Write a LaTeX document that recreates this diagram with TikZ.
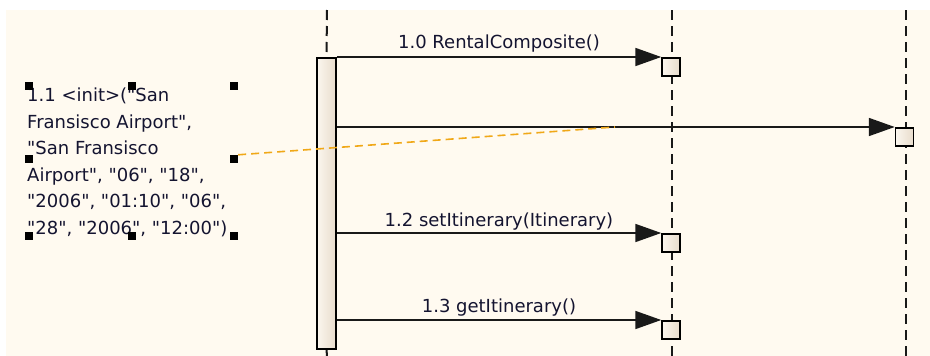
\documentclass[tikz,border=0pt]{standalone}
\usepackage{fontspec}
\newfontfamily\dv{DejaVu Sans}
\usetikzlibrary{arrows.meta}
\definecolor{bg}{HTML}{FFFAF0}
\definecolor{txt}{HTML}{141430}
\definecolor{notec}{HTML}{F0A818}
\definecolor{actl}{HTML}{FBF6EE}
\definecolor{actr}{HTML}{E8DCCC}
\begin{document}
\begin{tikzpicture}[x=1pt,y=-1pt,
  lifeline/.style={draw=black!90, line width=2pt, dash pattern=on 10pt off 6pt},
  actbox/.style={draw=black, line width=1.5pt, left color=actl, right color=actr,
    minimum width=18pt, minimum height=18pt, inner sep=0pt, anchor=north},
  msg/.style={draw=black!90, line width=1.8pt, -{Triangle[length=26pt,width=18pt]}},
  lbl/.style={font=\dv\fontsize{18}{22}\selectfont, text=txt, inner sep=0pt},
  handle/.style={fill=black, minimum size=8pt, inner sep=0pt},
  notelink/.style={draw=notec, line width=1.6pt, dash pattern=on 8pt off 5pt}]
\useasboundingbox (0,0) rectangle (930,356);
\fill[white] (0,0) rectangle (930,356);
\fill[bg] (6,10) rectangle (930,356);
% lifeline end points
\coordinate (l1top) at (327,10);
\coordinate (l1bot) at (327,356);
\coordinate (l2top) at (672,10);
\coordinate (l2bot) at (672,356);
\coordinate (l3top) at (906,10);
\coordinate (l3bot) at (906,356);
% activations
\node[actbox, minimum width=19pt, minimum height=291pt] (act) at (326.5,57) {};
\draw[lifeline] (l1top) -- (act.north);
\draw[lifeline] (act.south) -- (l1bot);
\draw[lifeline] (l2top) -- (l2bot);
\draw[lifeline] (l3top) -- (l3bot);
\node[actbox, minimum width=19pt, minimum height=291pt] at (326.5,57) {};
\node[actbox] (b10) at (671,57) {};
\node[actbox] (b11) at (904.5,127) {};
\node[actbox] (b12) at (671,233) {};
\node[actbox] (b13) at (671,320) {};
% messages
\draw[msg] (act.east |- b10.north west) -- (b10.north west)
  node[lbl, midway, anchor=base, yshift=9pt] (m10) {1.0 RentalComposite()};
\draw[msg] (act.east |- b11.north west) -- (b11.north west);
\draw[msg] (act.east |- b12.north west) -- (b12.north west)
  node[lbl, midway, anchor=base, yshift=7pt] (m12) {1.2 setItinerary(Itinerary)};
\draw[msg] (act.east |- b13.north west) -- (b13.north west)
  node[lbl, midway, anchor=base, yshift=8pt] (m13) {1.3 getItinerary()};
% note
\node[lbl, anchor=north west, align=left, font=\dv\fontsize{18}{26.5}\selectfont] (note) at (27,88)
  {1.1 <init>("San\\Fransisco Airport",\\"San Fransisco\\Airport", "06", "18",\\"2006", "01:10", "06",\\"28", "2006", "12:00")};
% selection handles
\node[handle] (h1) at (29,85.5) {};
\node[handle] (h2) at (132,85.5) {};
\node[handle] (h3) at (234,85.5) {};
\node[handle] (h4) at (29,159) {};
\node[handle] (h5) at (234,159) {};
\node[handle] (h6) at (29,236) {};
\node[handle] (h7) at (132,236) {};
\node[handle] (h8) at (234,236) {};
% note link
\coordinate (lnk) at (615,127);
\draw[notelink] (h5.north east) -- (lnk);
\end{tikzpicture}
\end{document}
